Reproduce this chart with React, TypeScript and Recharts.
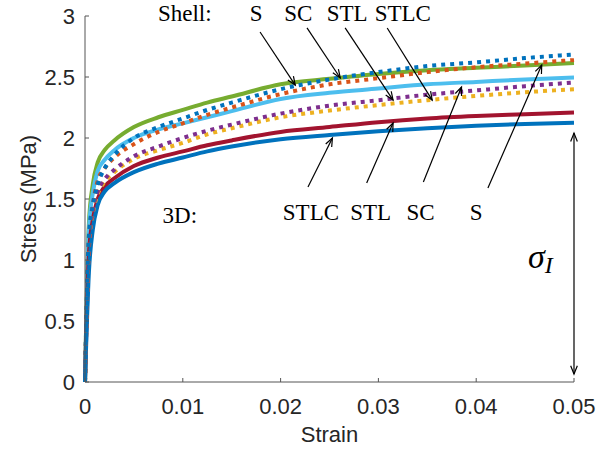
import { LineChart, Line, XAxis, YAxis, ReferenceLine, ReferenceDot } from 'recharts'

const strain = [0, 0.0004, 0.0008, 0.0013, 0.002, 0.003, 0.005, 0.0075, 0.01, 0.0125, 0.015, 0.02, 0.025, 0.03, 0.035, 0.04, 0.045, 0.05]

// 3D models (solid lines)
const solidS = [0, 1.3, 1.62, 1.8, 1.9, 1.98, 2.09, 2.17, 2.23, 2.29, 2.34, 2.44, 2.485, 2.525, 2.555, 2.575, 2.595, 2.615]
const solidSC = [0, 1.25, 1.55, 1.73, 1.82, 1.9, 2.0, 2.07, 2.12, 2.17, 2.22, 2.32, 2.37, 2.405, 2.44, 2.46, 2.48, 2.495]
const solidSTL = [0, 1.05, 1.33, 1.5, 1.6, 1.67, 1.77, 1.84, 1.89, 1.94, 1.98, 2.05, 2.09, 2.13, 2.16, 2.18, 2.195, 2.21]
const solidSTLC = [0, 0.9, 1.25, 1.45, 1.56, 1.63, 1.72, 1.79, 1.84, 1.89, 1.93, 1.99, 2.025, 2.055, 2.08, 2.1, 2.115, 2.125]

// shell models (dotted lines)
const shellS = [0, 1.2, 1.45, 1.62, 1.75, 1.86, 2.0, 2.09, 2.16, 2.23, 2.29, 2.4, 2.48, 2.54, 2.59, 2.62, 2.655, 2.685]
const shellSC = [0, 1.15, 1.45, 1.65, 1.75, 1.84, 1.95, 2.05, 2.12, 2.19, 2.25, 2.36, 2.44, 2.49, 2.54, 2.58, 2.61, 2.64]
const shellSTL = [0, 1.1, 1.4, 1.56, 1.66, 1.74, 1.85, 1.93, 2.0, 2.06, 2.11, 2.2, 2.265, 2.31, 2.355, 2.39, 2.425, 2.455]
const shellSTLC = [0, 1.1, 1.38, 1.54, 1.64, 1.72, 1.83, 1.9, 1.96, 2.03, 2.08, 2.17, 2.225, 2.27, 2.31, 2.345, 2.375, 2.4]

const xTicks = [0, 0.01, 0.02, 0.03, 0.04, 0.05]
const yTicks = [0, 0.5, 1, 1.5, 2, 2.5, 3]

// annotation text
const shellLabels = ['Shell:', 'S', 'SC', 'STL', 'STLC']
const shellLabelX = [0.0102, 0.0175, 0.0218, 0.0268, 0.0325]
const shellLabelY = [2.959, 2.959, 2.959, 2.959, 2.959]
const solidLabels = ['3D:', 'STLC', 'STL', 'SC', 'S']
const solidLabelX = [0.0097, 0.0231, 0.0292, 0.0343, 0.04]
const solidLabelY = [1.303, 1.328, 1.328, 1.328, 1.328]

// arrows: [fromX, fromY, toX, toY]
const arrows = [
  [0.0179, 2.869, 0.0215, 2.434],
  [0.0227, 2.902, 0.0261, 2.492],
  [0.0266, 2.902, 0.0315, 2.311],
  [0.0309, 2.902, 0.0355, 2.311],
  [0.0228, 1.598, 0.0253, 2.0],
  [0.0288, 1.631, 0.0315, 2.123],
  [0.0346, 1.639, 0.0385, 2.418],
  [0.0412, 1.59, 0.0467, 2.598],
]
const sigmaArrow = [0.05, 2.04, 0.05, 0.065]

const data = strain.map((s, i) => ({
  strain: s,
  solidS: solidS[i],
  solidSC: solidSC[i],
  solidSTL: solidSTL[i],
  solidSTLC: solidSTLC[i],
  shellS: shellS[i],
  shellSC: shellSC[i],
  shellSTL: shellSTL[i],
  shellSTLC: shellSTLC[i],
}))

const axisFont = 'Liberation Sans, Arial, sans-serif'
const serif = 'Liberation Serif, Times New Roman, serif'

function head(x: number, y: number, ang: number) {
  const L = 9
  const s = 0.38
  return `M${x - L * Math.cos(ang - s)},${y - L * Math.sin(ang - s)} L${x},${y} L${x - L * Math.cos(ang + s)},${y - L * Math.sin(ang + s)}`
}

const arrowShape = (both: boolean) => (p: any) => {
  const { x1, y1, x2, y2 } = p
  const a = Math.atan2(y2 - y1, x2 - x1)
  return (
    <g>
      <line x1={x1} y1={y1} x2={x2} y2={y2} stroke="#000" strokeWidth={1.2} />
      <path d={head(x2, y2, a)} fill="none" stroke="#000" strokeWidth={1.2} />
      {both && <path d={head(x1, y1, a + Math.PI)} fill="none" stroke="#000" strokeWidth={1.2} />}
    </g>
  )
}

const textShape = (t: string) => (p: any) => (
  <text x={p.cx} y={p.cy} textAnchor="middle" fontFamily={serif} fontSize={23} fill="#000">
    {t}
  </text>
)

const solidLine = (key: string, color: string) => (
  <Line key={key} dataKey={key} type="monotone" stroke={color} strokeWidth={4} dot={false} isAnimationActive={false} />
)
const dottedLine = (key: string, color: string) => (
  <Line key={key} dataKey={key} type="monotone" stroke={color} strokeWidth={4} strokeDasharray="4 5" dot={false} isAnimationActive={false} />
)

export default function App() {
  return (
    <div style={{ position: 'absolute', left: 0, top: 0, width: 600, height: 458, background: '#fff' }}>
      <LineChart width={600} height={458} data={data} margin={{ top: 16, right: 26, left: 30, bottom: 46 }}>
        <XAxis
          dataKey="strain"
          type="number"
          domain={[0, 0.05]}
          ticks={xTicks}
          interval={0}
          tickFormatter={(v) => String(v)}
          height={30}
          tickSize={-4}
          tickMargin={20}
          stroke="#555"
          tick={{ fill: '#262626', fontSize: 22, fontFamily: axisFont }}
          label={{ value: 'Strain', position: 'bottom', offset: 14, fill: '#262626', fontSize: 22, fontFamily: axisFont }}
        />
        <YAxis
          type="number"
          domain={[0, 3]}
          ticks={yTicks}
          interval={0}
          width={55}
          tickSize={-4}
          tickMargin={14}
          stroke="#555"
          tick={{ fill: '#262626', fontSize: 22, fontFamily: axisFont }}
          label={{
            content: (props: any) => {
              const vb = props.viewBox || { x: 30, y: 16, height: 366 }
              const cx = vb.x - 2
              const cy = vb.y + vb.height / 2
              return (
                <text x={cx} y={cy} transform={`rotate(-90, ${cx}, ${cy})`} textAnchor="middle" dominantBaseline="central" fill="#262626" fontSize={22} fontFamily={axisFont}>
                  Stress (MPa)
                </text>
              )
            },
          }}
        />
        {solidLine('solidS', '#77AC30')}
        {solidLine('solidSC', '#4DBEEE')}
        {solidLine('solidSTL', '#A2142F')}
        {solidLine('solidSTLC', '#0072BD')}
        {dottedLine('shellSTLC', '#EDB120')}
        {dottedLine('shellSTL', '#7E2F8E')}
        {dottedLine('shellSC', '#D95319')}
        {dottedLine('shellS', '#0072BD')}
        {arrows.map((a, i) => (
          <ReferenceLine key={'ar' + i} segment={[{ x: a[0], y: a[1] }, { x: a[2], y: a[3] }]} shape={arrowShape(false)} />
        ))}
        <ReferenceLine
          segment={[{ x: sigmaArrow[0], y: sigmaArrow[1] }, { x: sigmaArrow[2], y: sigmaArrow[3] }]}
          shape={arrowShape(true)}
        />
        {shellLabels.map((t, i) => (
          <ReferenceDot key={'sl' + i} x={shellLabelX[i]} y={shellLabelY[i]} shape={textShape(t)} />
        ))}
        {solidLabels.map((t, i) => (
          <ReferenceDot key={'dl' + i} x={solidLabelX[i]} y={solidLabelY[i]} shape={textShape(t)} />
        ))}
        <ReferenceDot
          x={0.0453}
          y={0.934}
          shape={(p: any) => (
            <text x={p.cx} y={p.cy} fontFamily={serif} fontStyle="italic" fontSize={34} fill="#000">
              σ
              <tspan fontSize={24} dy={5}>I</tspan>
            </text>
          )}
        />
      </LineChart>
    </div>
  )
}
